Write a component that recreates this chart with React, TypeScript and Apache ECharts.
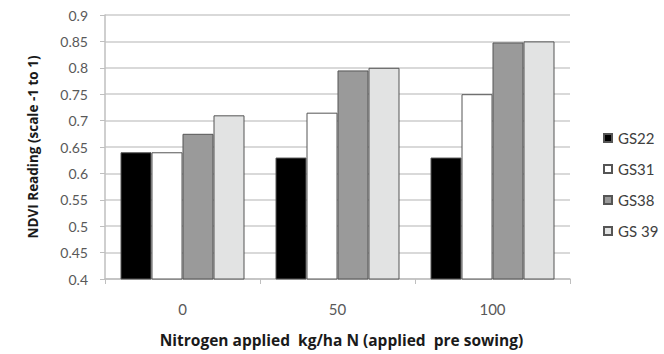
import React, { useEffect, useRef } from "react";
import * as echarts from "echarts";

const categories = ["0", "50", "100"];
const seriesNames = ["GS22", "GS31", "GS38", "GS 39"];
const gs22 = [0.64, 0.63, 0.63];
const gs31 = [0.64, 0.715, 0.75];
const gs38 = [0.675, 0.795, 0.848];
const gs39 = [0.71, 0.8, 0.85];
const seriesColors = ["#000000", "#ffffff", "#9a9a9a", "#e2e3e3"];

const FONT = "Lato, 'Open Sans', sans-serif";
const TITLE_FONT = "'Open Sans', Lato, sans-serif";

export default function App() {
  const ref = useRef<HTMLDivElement>(null);
  useEffect(() => {
    if (!ref.current) return;
    const chart = echarts.init(ref.current, undefined, { renderer: "svg" });
    const values = [gs22, gs31, gs38, gs39];
    chart.setOption({
      animation: false,
      backgroundColor: "#ffffff",
      textStyle: { fontFamily: FONT },
      grid: { left: 105, right: 94, top: 15, bottom: 75 },
      legend: {
        orient: "vertical",
        left: 598,
        top: 125,
        itemWidth: 8,
        itemHeight: 8,
        itemGap: 15,
        icon: "rect",
        data: seriesNames,
        textStyle: { fontSize: 15, lineHeight: 16, color: "#404040", fontFamily: FONT, padding: [0, 0, 0, 1] },
      },
      xAxis: {
        type: "category",
        data: categories,
        name: "Nitrogen applied  kg/ha N (applied  pre sowing)",
        nameLocation: "middle",
        nameGap: 53,
        nameTextStyle: { fontSize: 15.5, fontWeight: "bold", color: "#1a1a1a", fontFamily: TITLE_FONT, padding: [0, 0, 0, 8] },
        axisLine: { show: true, lineStyle: { color: "#bfbfbf", width: 1.5 } },
        axisTick: { show: true, length: 5, alignWithLabel: false, lineStyle: { color: "#bfbfbf" } },
        axisLabel: { margin: 22, fontSize: 15, color: "#595959", fontFamily: FONT },
        splitLine: { show: false },
      },
      yAxis: {
        type: "value",
        min: 0.4,
        max: 0.9,
        interval: 0.05,
        name: "NDVI Reading (scale -1 to 1)",
        nameLocation: "middle",
        nameGap: 65,
        nameRotate: 90,
        nameTextStyle: { fontSize: 13.5, fontWeight: "bold", color: "#1a1a1a", fontFamily: TITLE_FONT },
        axisLine: { show: true, lineStyle: { color: "#bfbfbf", width: 1.5 } },
        axisTick: { show: true, length: 5, lineStyle: { color: "#bfbfbf" } },
        axisLabel: {
          margin: 17,
          fontSize: 14,
          color: "#595959",
          fontFamily: FONT,
          formatter: (v: number) => String(Math.round(v * 100) / 100),
        },
        splitLine: { show: true, lineStyle: { color: "#cccccc", width: 1.5 } },
      },
      series: seriesNames.map((name, i) => ({
        name,
        type: "bar",
        data: values[i],
        barGap: "0%",
        barCategoryGap: "20%",
        itemStyle: { color: seriesColors[i], borderColor: "#555555", borderWidth: 1 },
      })),
    });
    return () => chart.dispose();
  }, []);
  return (
    <div
      style={{
        position: "fixed",
        left: 0,
        top: 0,
        width: 664,
        height: 354,
        background: "#fff",
      }}
    >
      <div style={{ position: "absolute", left: 0, top: 0, width: 2, height: 354, background: "#9a3a2a" }} />
      <div ref={ref} style={{ position: "absolute", left: 0, top: 0, width: 664, height: 354 }} />
    </div>
  );
}
